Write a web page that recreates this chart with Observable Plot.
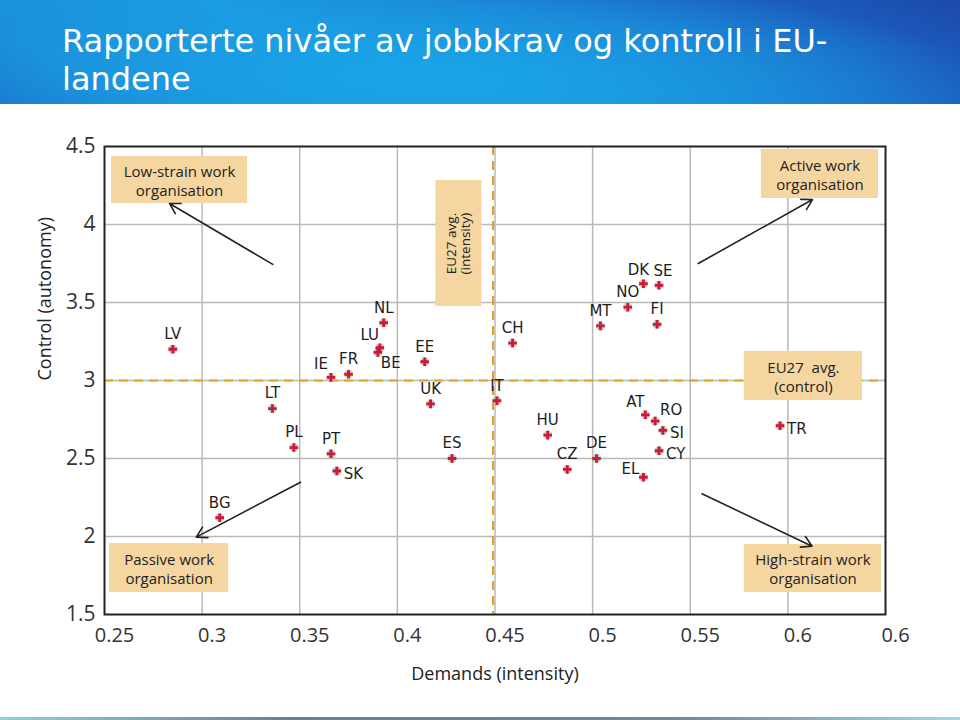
<!DOCTYPE html>
<html>
<head>
<meta charset="utf-8">
<script src="https://cdn.jsdelivr.net/npm/d3@7"></script>
<script src="https://cdn.jsdelivr.net/npm/@observablehq/plot@0.6"></script>
<style>
  html, body { margin: 0; padding: 0; background: #fff; }
  #page { width: 960px; height: 720px; overflow: hidden; position: relative; }
  #banner {
    height: 104px; box-sizing: border-box; padding: 22px 0 0 62px;
    background:
      radial-gradient(ellipse 70% 120% at 45% 75%, rgba(26,166,232,0.95) 0%, rgba(26,158,228,0.6) 45%, rgba(26,150,225,0) 80%),
      linear-gradient(200deg, #1c48ad 0%, #1b78cf 35%, #1a9be2 60%, #1a8ed9 85%, #1b72cb 100%);
    color: #fff; font-family: "DejaVu Sans", Verdana, sans-serif; font-size: 32px; line-height: 38px;
  }
  #chart { height: 613px; }
  #strip { position: absolute; left: 0; bottom: 0; width: 960px; height: 3px;
    background: linear-gradient(90deg, #8fd0de, #6b7f93 30%, #6f8797 70%, #9fd8e4); }
</style>
</head>
<body>
<div id="page">
  <div id="banner">Rapporterte nivåer av jobbkrav og kontroll i EU-<br>landene</div>
  <div id="chart"></div>
  <div id="strip"></div>
</div>
<script>
// ---- data ----
const countries = ["LV","LT","BG","PL","PT","SK","IE","FR","NL","LU","BE","EE","UK","ES","IT","CH","HU","CZ","DE","MT","NO","DK","SE","FI","AT","RO","SI","CY","EL","TR"];
const demands   = [0.285,0.336,0.309,0.347,0.366,0.369,0.366,0.375,0.393,0.391,0.390,0.414,0.417,0.428,0.451,0.459,0.477,0.487,0.502,0.504,0.518,0.526,0.534,0.533,0.527,0.532,0.536,0.534,0.526,0.596];
const control   = [3.20,2.82,2.12,2.57,2.53,2.42,3.02,3.04,3.37,3.21,3.18,3.12,2.85,2.50,2.87,3.24,2.65,2.43,2.50,3.35,3.47,3.62,3.61,3.36,2.78,2.74,2.68,2.55,2.38,2.71];

const demandAvg = 0.449;
const controlAvg = 3.0;

const xTicks = [0.25,0.30,0.35,0.40,0.45,0.50,0.55,0.60,0.65];
const xTickLabels = ["0.25","0.3","0.35","0.4","0.45","0.5","0.55","0.6","0.6"];
const yTicks = [1.5,2,2.5,3,3.5,4,4.5];
const yTickLabels = ["1.5","2","2.5","3","3.5","4","4.5"];

const xTitle = "Demands (intensity)";
const yTitle = "Control (autonomy)";

// annotation boxes (data units)
const boxLabels = ["Low-strain work\norganisation","Active work\norganisation","EU27  avg.\n(control)","Passive work\norganisation","High-strain work\norganisation"];
const boxX1 = [0.2536,0.5864,0.5777,0.2526,0.5777];
const boxX2 = [0.3233,0.6464,0.6382,0.3136,0.6480];
const boxY1 = [4.135,4.167,2.872,1.641,1.641];
const boxY2 = [4.436,4.481,3.186,1.955,1.949];

const vBoxLabel = "EU27 avg.\n(intensity)";
const vBoxX1 = [0.4197], vBoxX2 = [0.4433], vBoxY1 = [3.474], vBoxY2 = [4.282];

// arrows (data units)
const arrowX1 = [0.3362,0.5541,0.3504,0.5560];
const arrowY1 = [3.744,3.750,2.348,2.274];
const arrowX2 = [0.2833,0.6126,0.2970,0.6124];
const arrowY2 = [4.135,4.160,1.996,1.938];

// ---- label placement (style) ----
const placement = {IE:"topleft", LU:"topleft", AT:"topleft", RO:"topright", BE:"bottomright",
  SK:"right", SI:"right", CY:"right", TR:"right", EL:"left", DK:"topnudgeleft", SE:"topnudgeright"};
const placeStyle = {
  top:          {textAnchor:"middle", dx:0,   dy:-15},
  topnudgeleft: {textAnchor:"middle", dx:-5,  dy:-14},
  topnudgeright:{textAnchor:"middle", dx:4,   dy:-14},
  topleft:      {textAnchor:"middle", dx:-10, dy:-13},
  topright:     {textAnchor:"middle", dx:16,  dy:-11},
  bottomright:  {textAnchor:"start",  dx:3,   dy:11},
  right:        {textAnchor:"start",  dx:7,   dy:3},
  left:         {textAnchor:"end",    dx:-4,  dy:-8}
};

const points = countries.map((c,i) => ({c, x: demands[i], y: control[i], p: placement[c] || "top"}));
const boxes = boxLabels.map((t,i) => ({t, x1: boxX1[i], x2: boxX2[i], y1: boxY1[i], y2: boxY2[i]}));
const vboxes = vBoxX1.map((d,i) => ({t: vBoxLabel, x1: vBoxX1[i], x2: vBoxX2[i], y1: vBoxY1[i], y2: vBoxY2[i]}));
const arrows = arrowX1.map((d,i) => ({x1: arrowX1[i], y1: arrowY1[i], x2: arrowX2[i], y2: arrowY2[i]}));

const labelMarks = Object.entries(placeStyle).map(([k, s]) =>
  Plot.text(points.filter(d => d.p === k), {x:"x", y:"y", text:"c", ...s,
    fontFamily:"DejaVu Sans", fontSize:15, fill:"#1e1e1e"}));

const boxColor = "#f5d6a1";
const avgColor = "#e3a11c";

const chart = Plot.plot({
  width: 960, height: 613,
  marginLeft: 104, marginRight: 75, marginTop: 42, marginBottom: 103,
  style: {fontFamily: "'Open Sans', sans-serif", background: "transparent"},
  x: {domain: [0.25, 0.65]},
  y: {domain: [1.5, 4.5]},
  marks: [
    Plot.gridX(xTicks.slice(1, -1), {stroke:"#b9b9b9", strokeOpacity:1, strokeWidth:1.5}),
    Plot.gridY(yTicks.slice(1, -1), {stroke:"#b9b9b9", strokeOpacity:1, strokeWidth:1.5}),
    Plot.ruleX([demandAvg], {stroke: avgColor, strokeWidth:2, strokeDasharray:"9,6"}),
    Plot.ruleY([controlAvg], {stroke: avgColor, strokeWidth:2, strokeDasharray:"9,6"}),
    Plot.rect(boxes, {x1:"x1", x2:"x2", y1:"y1", y2:"y2", fill: boxColor}),
    Plot.rect(vboxes, {x1:"x1", x2:"x2", y1:"y1", y2:"y2", fill: boxColor}),
    Plot.text(boxes, {x: d => (d.x1+d.x2)/2, y: d => (d.y1+d.y2)/2, text:"t",
      fontSize:15, lineHeight:1.27, fill:"#222"}),
    Plot.text(vboxes, {x: d => (d.x1+d.x2)/2, y: d => (d.y1+d.y2)/2, text:"t", rotate:-90,
      fontSize:13.5, lineHeight:1.0, fill:"#222"}),
    Plot.arrow(arrows, {x1:"x1", y1:"y1", x2:"x2", y2:"y2", stroke:"#222", strokeWidth:1.6, headLength:11}),
    Plot.dot(points, {x:"x", y:"y", r:4.6, fill:"#9ccaa9", fillOpacity:0.7}),
    Plot.dot(points, {x:"x", y:"y", r:3.6, symbol:"cross", fill:"#d4163c"}),
    ...labelMarks,
    Plot.axisX(xTicks, {tickSize:0, tickPadding:13, tickFormat:(d,i) => xTickLabels[i], dx:10,
      fontSize:20, fill:"#333", label:null}),
    Plot.axisY(yTicks, {tickSize:0, tickPadding:9, tickFormat:(d,i) => yTickLabels[i],
      fontSize:21, fill:"#333", label:null}),
    Plot.text([xTitle], {frameAnchor:"bottom", dy:65, fontSize:18, fill:"#222"}),
    Plot.text([yTitle], {frameAnchor:"left", dx:-59, rotate:-90, fontSize:18, fill:"#222"}),
    Plot.frame({stroke:"#222", strokeWidth:2})
  ]
});
document.getElementById("chart").appendChild(chart);
</script>
</body>
</html>
